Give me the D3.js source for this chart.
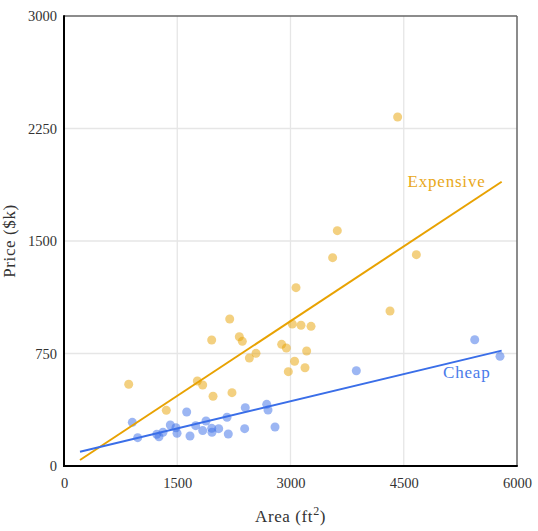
<!DOCTYPE html>
<html>
<head>
<meta charset="utf-8">
<script src="https://cdn.jsdelivr.net/npm/d3@7"></script>
<style>
body { margin: 0; background: #fff; }
text { font-family: "Liberation Serif", "DejaVu Serif", serif; }
</style>
</head>
<body>
<script>
// expensive houses: area (ft2) and price ($k)
var expensiveArea = [857, 1355, 1766, 1837, 1956, 1974, 2195, 2225, 2322, 2362, 2455, 2543, 2883, 2945, 2971, 3024, 3054, 3073, 3139, 3192, 3214, 3272, 3558, 3620, 4318, 4419, 4667];
var expensivePrice = [545, 371, 567, 540, 840, 465, 980, 489, 862, 831, 720, 751, 811, 787, 629, 947, 698, 1189, 938, 655, 767, 931, 1389, 1569, 1033, 2327, 1409];

// cheap houses
var cheapArea = [905, 976, 1228, 1258, 1311, 1408, 1483, 1497, 1625, 1669, 1744, 1837, 1881, 1956, 1960, 2049, 2159, 2176, 2393, 2401, 2685, 2702, 2795, 3872, 5440, 5775];
var cheapPrice = [291, 189, 211, 195, 225, 273, 255, 218, 360, 200, 269, 236, 300, 251, 225, 249, 325, 213, 249, 389, 411, 373, 260, 635, 842, 731];

// trend line end points
var trendArea = [212, 5797];
var expensiveTrend = [40, 1895];
var cheapTrend = [95, 769];

var xTicks = [0, 1500, 3000, 4500, 6000];
var yTicks = [0, 750, 1500, 2250, 3000];

var w = 538;
var h = 531;
var padLeft = 64, padRight = 517, padTop = 16, padBottom = 466;

var orange = "#e8a202";
var blue = "#3a6ee8";

var svg = d3.select("body")
			.append("svg")
			.attr("width", w)
			.attr("height", h);

var xScale = d3.scaleLinear()
				.domain([0, 6000])
				.range([padLeft, padRight]);

var yScale = d3.scaleLinear()
				.domain([0, 3000])
				.range([padBottom, padTop]);

// grid
svg.selectAll(".vgrid")
	.data(xTicks.slice(1, -1))
	.enter()
	.append("line")
	.attr("x1", function(d){ return xScale(d); })
	.attr("x2", function(d){ return xScale(d); })
	.attr("y1", padTop)
	.attr("y2", padBottom)
	.attr("stroke", "#e6e6e6")
	.attr("stroke-width", 1.3);

svg.selectAll(".hgrid")
	.data(yTicks.slice(1, -1))
	.enter()
	.append("line")
	.attr("x1", padLeft)
	.attr("x2", padRight)
	.attr("y1", function(d){ return yScale(d); })
	.attr("y2", function(d){ return yScale(d); })
	.attr("stroke", "#e6e6e6")
	.attr("stroke-width", 1.3);

// axes (labels only, frame drawn below)
var xAxis = d3.axisBottom(xScale).tickValues(xTicks).tickFormat(d3.format("d")).tickSize(0).tickPadding(12);
var yAxis = d3.axisLeft(yScale).tickValues(yTicks).tickFormat(d3.format("d")).tickSize(0).tickPadding(7);

var gx = svg.append("g")
	.attr("transform", "translate(0," + padBottom + ")")
	.call(xAxis);
var gy = svg.append("g")
	.attr("transform", "translate(" + padLeft + ",0)")
	.call(yAxis);

[gx, gy].forEach(function(g){
	g.select(".domain").remove();
	g.selectAll("text")
		.attr("fill", "#333")
		.style("font-size", "14.5px")
		.style("font-family", "'Liberation Serif', serif");
});

// points
function dots(area, price, color) {
	svg.append("g")
		.selectAll("circle")
		.data(area)
		.enter()
		.append("circle")
		.attr("cx", function(d){ return xScale(d); })
		.attr("cy", function(d, i){ return yScale(price[i]); })
		.attr("r", 4.5)
		.attr("fill", color)
		.attr("opacity", 0.5);
}
dots(expensiveArea, expensivePrice, orange);
dots(cheapArea, cheapPrice, blue);

// trend lines
var line = d3.line()
	.x(function(d){ return xScale(d[0]); })
	.y(function(d){ return yScale(d[1]); });

svg.append("path")
	.attr("d", line(d3.zip(trendArea, expensiveTrend)))
	.attr("fill", "none")
	.attr("stroke", orange)
	.attr("stroke-width", 2);

svg.append("path")
	.attr("d", line(d3.zip(trendArea, cheapTrend)))
	.attr("fill", "none")
	.attr("stroke", blue)
	.attr("stroke-width", 2);

// line labels
svg.append("text")
	.attr("x", xScale(4550))
	.attr("y", yScale(1860))
	.attr("fill", "#e9a820")
	.style("font-size", "17px")
	.style("letter-spacing", "0.8px")
	.text("Expensive");

svg.append("text")
	.attr("x", xScale(5020))
	.attr("y", yScale(585))
	.attr("fill", "#4a7bea")
	.style("font-size", "17px")
	.style("letter-spacing", "0.8px")
	.text("Cheap");

// frame
svg.append("line")
	.attr("x1", padLeft).attr("x2", padRight)
	.attr("y1", padTop).attr("y2", padTop)
	.attr("stroke", "#666").attr("stroke-width", 1.5);
svg.append("line")
	.attr("x1", padRight).attr("x2", padRight)
	.attr("y1", padTop).attr("y2", padBottom)
	.attr("stroke", "#666").attr("stroke-width", 1.5);
svg.append("line")
	.attr("x1", padLeft).attr("x2", padLeft)
	.attr("y1", padTop - 0.75).attr("y2", padBottom + 1)
	.attr("stroke", "#000").attr("stroke-width", 2);
svg.append("line")
	.attr("x1", padLeft - 1).attr("x2", padRight + 0.75)
	.attr("y1", padBottom).attr("y2", padBottom)
	.attr("stroke", "#000").attr("stroke-width", 2);

// axis titles
var xt = svg.append("text")
	.attr("x", (padLeft + padRight) / 2)
	.attr("y", 522)
	.attr("text-anchor", "middle")
	.attr("fill", "#333")
	.style("font-size", "17px")
	.style("letter-spacing", "0.6px");
xt.append("tspan").text("Area (ft");
xt.append("tspan").attr("dy", -7).style("font-size", "12px").text("2");
xt.append("tspan").attr("dy", 7).text(")");

svg.append("text")
	.attr("transform", "translate(15," + ((padTop + padBottom) / 2) + ") rotate(-90)")
	.attr("text-anchor", "middle")
	.attr("fill", "#333")
	.style("font-size", "17px")
	.style("letter-spacing", "0.6px")
	.text("Price ($k)");
</script>
</body>
</html>
